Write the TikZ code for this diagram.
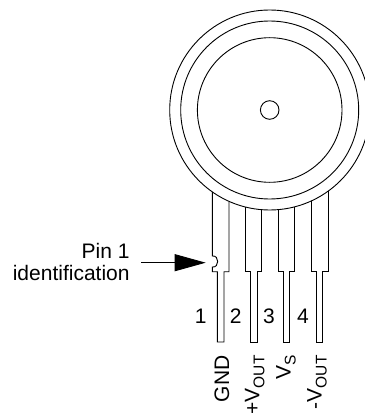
\documentclass[tikz,border=0pt]{standalone}
\usepackage{fontspec}
\setmainfont{Liberation Sans}
\usetikzlibrary{arrows.meta}
\newcommand{\lowtext}[1]{\raisebox{-5pt}{\fontsize{15.5}{16}\selectfont #1}}

\begin{document}
\begin{tikzpicture}[x=1pt,y=-1pt,line width=0.9pt,>={Triangle[length=31pt,width=17pt]}]

  \tikzstyle{every node}=[font=\fontsize{21}{22}\selectfont,inner sep=0pt]
  \tikzstyle{pinnum}=[anchor=base]
  \tikzstyle{signal}=[rotate=90,anchor=base east]

  \useasboundingbox (0,0) rectangle (364,417);

  % package
  \draw (269.7,110) circle (100);
  \draw (269.7,110) circle (89);
  \draw (269.7,110) circle (72.3);
  \draw (269.7,110) circle (9.3);

  % leads
  \draw (212.3,191.8) -- (212.3,256) .. controls (219.5,255) and (219.5,268) .. (212.3,267)
        -- (212.3,271.7) -- (217.3,271.7) -- (217.3,342) -- (224,342) -- (224,271.7)
        -- (229,271.7) -- (229,201.3);
  \draw (245.3,207) -- (245.3,271.7) -- (250.7,271.7) -- (250.7,342) -- (257,342)
        -- (257,271.7) -- (261.7,271.7) -- (261.7,209.7);
  \draw (278,209.6) -- (278,271.7) -- (283.3,271.7) -- (283.3,342) -- (289.3,342)
        -- (289.3,271.7) -- (294.7,271.7) -- (294.7,206.8);
  \draw (311,201) -- (311,271.7) -- (316.7,271.7) -- (316.7,342) -- (322.7,342)
        -- (322.7,271.7) -- (328,271.7) -- (328,191.2);

  % pin numbers
  \node[pinnum] (num1) at (200.7,323) {1};
  \node[pinnum] (num2) at (235.7,323) {2};
  \node[pinnum] (num3) at (269,323) {3};
  \node[pinnum] (num4) at (303,323) {4};

  % signal names
  \node[signal] (gnd)  at (229,355) {GND};
  \node[signal] (vpos) at (259.3,355) {+V\lowtext{OUT}};
  \node[signal] (vs)   at (290.7,355) {V\lowtext{S}};
  \node[signal] (vneg) at (321.7,355) {-V\lowtext{OUT}};

  % pin 1 marker
  \node[align=right,anchor=base east] (pinid) at (130,280) {Pin 1\\identification};
  \coordinate (tail) at (141,262.7);
  \coordinate (notch) at (205.7,262.7);
  \draw[->] (tail) -- (notch);
\end{tikzpicture}
\end{document}
